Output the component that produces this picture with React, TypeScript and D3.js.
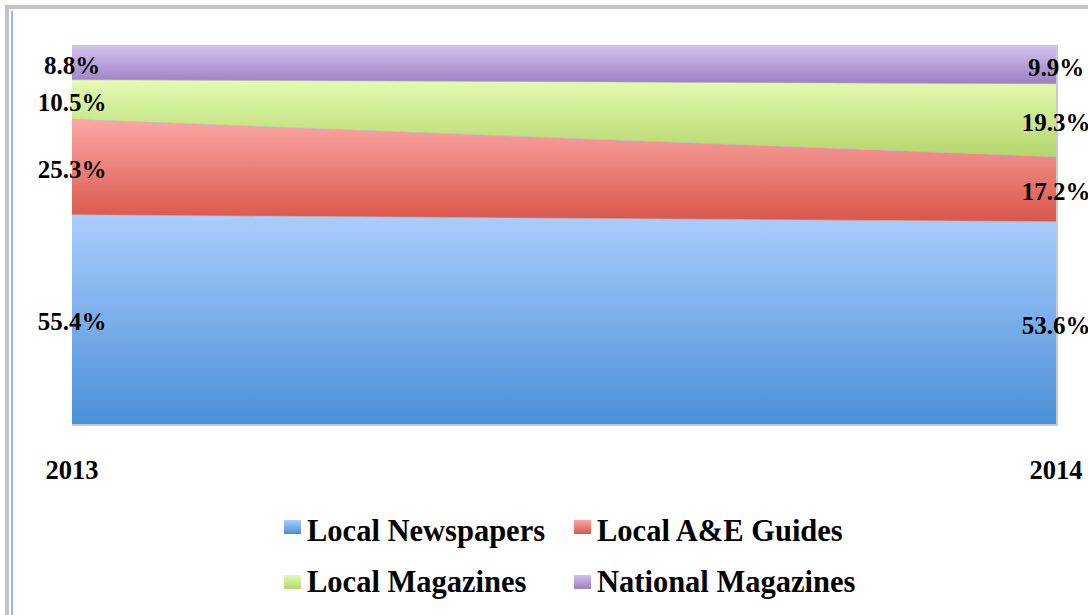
import React from "react";
import * as d3 from "d3";

const years = ["2013", "2014"];
const seriesNames = ["Local Newspapers", "Local A&E Guides", "Local Magazines", "National Magazines"];
const localNewspapers = [55.4, 53.6];
const localAEGuides = [25.3, 17.2];
const localMagazines = [10.5, 19.3];
const nationalMagazines = [8.8, 9.9];

const seriesValues = [localNewspapers, localAEGuides, localMagazines, nationalMagazines];
const gradients: [string, string][] = [
  ["#aacefd", "#4b8fd7"],
  ["#fba7a4", "#d9564b"],
  ["#e4fbb2", "#b5d66d"],
  ["#d2c0f0", "#9a7fc2"],
];

const W = 1088;
const H = 615;
const plot = { left: 72, right: 1056, top: 46.5, bottom: 424 };
const FONT = "Liberation Serif, Times New Roman, serif";

export default function App() {
  const table = years.map((y, i) => {
    const row: any = { year: y };
    seriesNames.forEach((n, k) => (row[n] = seriesValues[k][i]));
    return row;
  });
  const stacked = d3.stack<any>().keys(seriesNames)(table);

  const x = d3.scalePoint<string>().domain(years).range([plot.left, plot.right]);
  const y = d3.scaleLinear().domain([0, 100]).range([plot.bottom, plot.top]);

  const area = d3
    .area<any>()
    .x((d) => x(d.data.year) as number)
    .y0((d) => y(d[0]))
    .y1((d) => y(d[1]));
  const topLine = d3
    .line<any>()
    .x((d) => x(d.data.year) as number)
    .y((d) => y(d[1]));

  const legendItems = [
    { k: 0, x: 284, textX: 307, y: 520, base: 541 },
    { k: 1, x: 574, textX: 597, y: 520, base: 541 },
    { k: 2, x: 284, textX: 307, y: 575, base: 592 },
    { k: 3, x: 574, textX: 597, y: 575, base: 592 },
  ];

  return (
    <svg width={W} height={H} style={{ position: "absolute", left: 0, top: 0, display: "block" }}>
      <defs>
        {gradients.map((g, i) => (
          <linearGradient key={i} id={`g${i}`} x1="0" y1="0" x2="0" y2="1">
            <stop offset="0%" stopColor={g[0]} />
            <stop offset="100%" stopColor={g[1]} />
          </linearGradient>
        ))}
      </defs>
      <rect x={0} y={0} width={W} height={H} fill="#ffffff" />
      <rect x={7} y={7} width={W + 10} height={H + 10} fill="none" stroke="#c4c4c4" strokeWidth={4} />
      <line x1={12} y1={11} x2={12} y2={H} stroke="#6fa3dc" strokeWidth={1.5} />

      <rect x={plot.left} y={plot.top - 1.5} width={plot.right - plot.left + 2} height={plot.bottom - plot.top + 3.5} fill="#c8c8c8" />

      {stacked.map((s, k) => (
        <path key={k} d={area(s as any) || ""} fill={`url(#g${k})`} />
      ))}
      {stacked.slice(0, 3).map((s, k) => (
        <path key={"l" + k} d={topLine(s as any) || ""} fill="none" stroke="#bdbdbd" strokeOpacity={0.6} strokeWidth={1} />
      ))}

      {stacked.map((s, k) =>
        s.map((d: any, i: number) => (
          <text
            key={`t${k}-${i}`}
            x={x(d.data.year) as number}
            y={(y(d[0]) + y(d[1])) / 2 + 11}
            textAnchor="middle"
            fontFamily={FONT}
            fontWeight="bold"
            fontSize={25}
            fill="#000"
          >
            {seriesValues[k][i].toFixed(1)}%
          </text>
        ))
      )}

      {years.map((yr) => (
        <text key={yr} x={x(yr) as number} y={479} textAnchor="middle" fontFamily={FONT} fontWeight="bold" fontSize={26.5} fill="#000">
          {yr}
        </text>
      ))}

      {legendItems.map((it) => (
        <g key={it.k}>
          <rect x={it.x} y={it.y} width={17} height={14} fill={`url(#g${it.k})`} />
          <text x={it.textX} y={it.base} fontFamily={FONT} fontWeight="bold" fontSize={30.5} fill="#000">
            {seriesNames[it.k]}
          </text>
        </g>
      ))}
    </svg>
  );
}
